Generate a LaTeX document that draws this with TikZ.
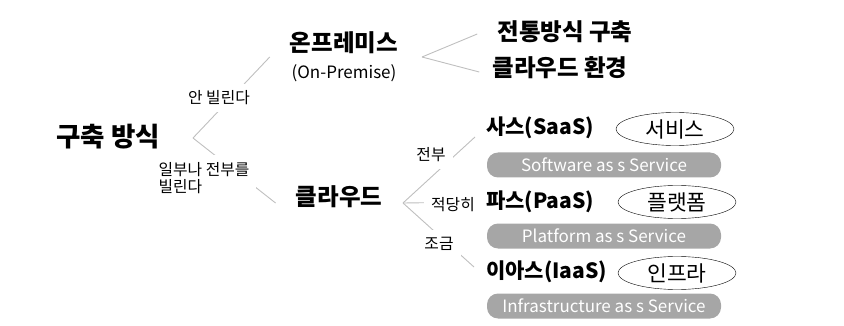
\documentclass[tikz,border=0pt]{standalone}
\usepackage{fontspec}
\setmainfont{Noto Sans CJK KR}
\usetikzlibrary{shapes.geometric}

\tikzset{
  head/.style={font=\fontsize{23.5}{28}\selectfont\bfseries, inner sep=3pt},
  note/.style={font=\fontsize{15.8}{17}\selectfont, fill=white, inner sep=7pt},
  link/.style={draw=black!25, line width=0.9pt},
  oval/.style={ellipse, draw, thin, minimum width=118pt, minimum height=33pt, inner sep=0pt, font=\fontsize{21.5}{24}\selectfont},
  bar/.style={fill=black!35, rounded corners=11pt, minimum width=234pt, minimum height=25pt, inner sep=0pt, text=white, font=\fontsize{17}{20}\selectfont},
}

\begin{document}
\begin{tikzpicture}[x=1pt, y=-1pt]
    \useasboundingbox (0,0) rectangle (844,326);
    % headings
    \node[head, font=\fontsize{26.5}{30}\selectfont\bfseries] (root) at (108,137) {구축 방식};
    \node[head, align=center] (onprem) at (344,57) {온프레미스\\[-1pt]{\fontsize{17}{19}\selectfont\mdseries (On-Premise)}};
    \node[head] (cloud) at (339,197) {클라우드};
    \node[head] (trad) at (565,32) {전통방식 구축};
    \node[head] (cloudenv) at (560,68) {클라우드 환경};
    \node[head, anchor=west, font=\fontsize{21}{24}\selectfont\bfseries] (saas) at (483,128) {사스(SaaS)};
    \node[head, anchor=west, font=\fontsize{21}{24}\selectfont\bfseries] (paas) at (483,202) {파스(PaaS)};
    \node[head, anchor=west, font=\fontsize{21}{24}\selectfont\bfseries] (iaas) at (483,272) {이아스(IaaS)};
    % ovals and bars
    \node[oval] (saasoval) at (675,129) {서비스};
    \node[oval] (paasoval) at (677,202) {플랫폼};
    \node[oval] (iaasoval) at (677,273) {인프라};
    \node[bar] (saasbar) at (604,165) {Software as s Service};
    \node[bar] (paasbar) at (604,236) {Platform as s Service};
    \node[bar] (iaasbar) at (604,306) {Infrastructure as s Service};
    % forks
    \coordinate (rootfork) at (193,138);
    \coordinate (premfork) at (422,57);
    \coordinate (cloudfork) at (403,203);
    \draw[link] (rootfork) -- ([xshift=-17pt]onprem.west);
    \draw[link] (rootfork) -- ([xshift=-17pt,yshift=-6pt]cloud.west);
    \draw[link] (premfork) -- ([xshift=-17pt,yshift=-2pt]trad.west);
    \draw[link] (premfork) -- ([xshift=-10pt,yshift=-4pt]cloudenv.west);
    \draw[link] (cloudfork) -- ([xshift=-8pt,yshift=-9pt]saas.west);
    \draw[link, shorten >=3pt] (cloudfork) -- (paas.west);
    \draw[link] (cloudfork) -- ([xshift=-9pt,yshift=5pt]iaas.west);
    % labels on the links
    \node[note] (notrent) at (219,98) {안 빌린다};
    \node[note, align=left] (rent) at (204,178) {일부나 전부를\\빌린다};
    \node[note] (all) at (431,155) {전부};
    \node[note] (some) at (453,205) {적당히};
    \node[note] (little) at (439,244) {조금};
\end{tikzpicture}
\end{document}
